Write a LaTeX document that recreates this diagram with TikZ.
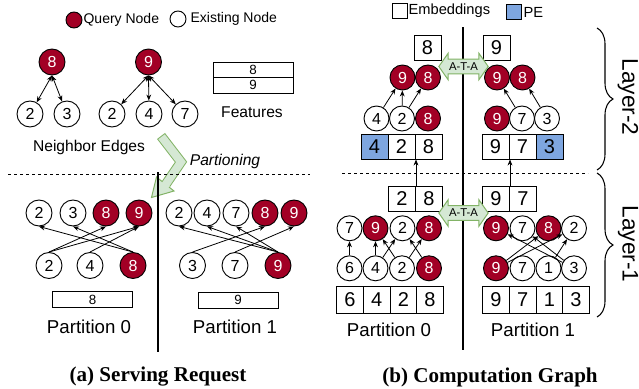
\documentclass[tikz,border=0pt]{standalone}
\usepackage{fontspec}
\setmainfont{Liberation Sans}
\setsansfont{Liberation Sans}
\newfontfamily\captionserif{Liberation Serif}
\usepackage{tikz}
\usetikzlibrary{positioning, arrows.meta, shapes.arrows, decorations.pathreplacing}
\definecolor{queryred}{HTML}{A20025}
\definecolor{peblue}{HTML}{7EA6E0}
\definecolor{ataline}{HTML}{82B366}
\definecolor{atafill}{HTML}{D5E8D4}
\tikzset{
  >={Stealth[length=4.5pt, width=3.6pt]},
  every node/.style={font=\fontsize{10.5}{12}\selectfont},
  qnode/.style={
    circle, draw, line width=0.7pt, fill=queryred, text=white,
    inner sep=0pt, minimum size=19.5pt, font=\fontsize{12}{12}\selectfont
  },
  enode/.style={qnode, fill=white, text=black},
  featcell/.style={
    rectangle, draw, line width=0.75pt, minimum width=60pt,
    minimum height=11.5pt, inner sep=0pt, font=\fontsize{10}{10}\selectfont
  },
  embcell/.style={
    rectangle, draw, line width=0.75pt, minimum width=20.25pt,
    minimum height=18.75pt, inner sep=0pt, font=\fontsize{15}{15}\selectfont
  },
  pecell/.style={embcell, fill=peblue},
  basecell/.style={embcell, minimum width=20pt, minimum height=20pt},
  legbox/.style={rectangle, draw, line width=0.75pt, minimum size=11.25pt, inner sep=0pt},
  flowedge/.style={->, line width=0.6pt},
  nbedge/.style={<->, line width=0.6pt},
  ata/.style={
    double arrow, draw=ataline, fill=atafill, line width=0.75pt,
    double arrow head extend=4.5pt, double arrow tip angle=110,
    minimum height=37pt, minimum width=18pt, inner sep=2.2pt,
    font=\fontsize{8.5}{8.5}\selectfont
  },
  sublabel/.style={font=\fontsize{11.7}{13}\selectfont},
  partlabel/.style={font=\fontsize{14}{16}\selectfont},
  figcaption/.style={font=\captionserif\bfseries\fontsize{15.8}{18}\selectfont},
  separator/.style={dash pattern=on 2.5pt off 2pt, line width=0.6pt},
  wall/.style={line width=2.2pt},
  layerbrace/.style={decorate, decoration={brace, amplitude=12pt}, line width=0.8pt},
  layerlabel/.style={rotate=-90, font=\fontsize{17}{20}\selectfont}
}

\begin{document}
\begin{tikzpicture}[x=0.75pt, y=-0.75pt]
\useasboundingbox (0,0) rectangle (639,389);

% ---------------- (a) serving request ----------------
% legend
\node[qnode, minimum size=12pt] (legq) at (74,20) {};
\node[anchor=west, inner sep=1pt] (legqtxt) at (82,20) {Query Node};
\node[enode, minimum size=12pt] (lege) at (178,19) {};
\node[anchor=west, inner sep=1pt] (legetxt) at (189,19) {Existing Node};

% neighbor edges of the two query nodes
\node[qnode] (q8) at (52,62) {8};
\node[qnode] (q9) at (148.5,62) {9};
\node[enode] (q8n2) at (30,114) {2};
\node[enode] (q8n3) at (67,114) {3};
\node[enode] (q9n2) at (112,114) {2};
\node[enode] (q9n4) at (149,114) {4};
\node[enode] (q9n7) at (185,114) {7};
\foreach \c in {q8n2, q8n3} \draw[nbedge] (q8.south) -- (\c);
\foreach \c in {q9n2, q9n4, q9n7} \draw[nbedge] (q9.south) -- (\c);
\node[sublabel] (nblbl) at (89,147) {Neighbor Edges};

% features
\node[featcell] (feat8) at (253,70) {8};
\node[featcell, below=-0.75pt of feat8] (feat9) {9};
\node[sublabel] (featlbl) at (252,112) {Features};

% bent partitioning arrow
\draw[line width=7.5pt, ataline, line join=miter] (161,136) -- (181,162) -- (166,184);
\filldraw[fill=atafill, draw=ataline, line width=0.75pt, line join=miter]
  (151.5,197.5) -- (156.5,177) -- (174,191) -- cycle;
\draw[line width=6pt, atafill, line join=miter, shorten <=0.75pt]
  (161,136) -- (181,162) -- (164.5,186.2);
\node[sublabel, font=\fontsize{11.7}{13}\selectfont\itshape] (partlbl) at (225,161) {Partioning};

\draw[separator] (8,174) -- (310,174);
\draw[wall] (158,172) -- (158,352);

% partition 0
\node[enode] (p0t2) at (39,213) {2};
\node[enode] (p0t3) at (73,213) {3};
\node[qnode] (p0t8) at (106,213) {8};
\node[qnode] (p0t9) at (139,213) {9};
\node[enode] (p0b2) at (49,265.5) {2};
\node[enode] (p0b4) at (90,265.5) {4};
\node[qnode] (p0b8) at (133,265.5) {8};
\draw[flowedge] (p0b8.north) -- (p0t2.south);
\draw[flowedge] (p0b8.north) -- (p0t3.south);
\draw[flowedge] (p0b2.north) -- (p0t8.south);
\draw[flowedge] (p0b2.north) -- (p0t9.south);
\draw[flowedge] (p0b4.north) -- (p0t9.south);
\node[featcell, minimum height=12pt] (p0feat) at (92.5,299.7) {8};
\node[partlabel] (p0lbl) at (89,327) {Partition 0};

% partition 1
\node[enode] (p1t2) at (179,213) {2};
\node[enode] (p1t4) at (207,213) {4};
\node[enode] (p1t7) at (236,213) {7};
\node[qnode] (p1t8) at (265,213) {8};
\node[qnode] (p1t9) at (294,213) {9};
\node[enode] (p1b3) at (192.5,265.5) {3};
\node[enode] (p1b7) at (235,265.5) {7};
\node[qnode] (p1b9) at (278,265.5) {9};
\foreach \t in {p1t2, p1t4, p1t7} \draw[flowedge] (p1b9.north) -- (\t.south);
\draw[flowedge] (p1b3.north) -- (p1t8.south);
\draw[flowedge] (p1b7.north) -- (p1t9.south);
\node[featcell, minimum height=12pt] (p1feat) at (238,300) {9};
\node[partlabel] (p1lbl) at (235,327) {Partition 1};

\node[figcaption] (capa) at (158,377) {(a) Serving Request};

% ---------------- (b) computation graph ----------------
\begin{scope}[qnode/.append style={minimum size=18.75pt}]
% legend
\node[legbox] (legemb) at (399.5,11) {};
\node[anchor=west, inner sep=1pt, font=\fontsize{11}{12}\selectfont] (legembtxt) at (407,11) {Embeddings};
\node[legbox, fill=peblue] (legpe) at (514,12) {};
\node[anchor=west, inner sep=1pt, font=\fontsize{11}{12}\selectfont] (legpetxt) at (522,12) {PE};

\draw[separator] (342,173) -- (588,173);
\draw[wall] (463,27) -- (463,350);

% layer-2
\node[embcell] (top8) at (427.5,47.5) {8};
\node[embcell] (top9) at (496.5,47.5) {9};
\node[qnode] (ta9) at (402.5,77.5) {9};
\node[qnode] (ta8) at (428,77.5) {8};
\node[qnode] (tb9) at (497,77.5) {9};
\node[qnode] (tb8) at (522.5,77.5) {8};
\node[ata] (ata2) at (463.5,66.5) {A-T-A};

\node[enode] (ma4) at (376.5,118.5) {4};
\node[enode] (ma2) at (402,118.5) {2};
\node[qnode] (ma8) at (428,118.5) {8};
\node[qnode] (mb9) at (497,118.5) {9};
\node[enode] (mb7) at (522,118.5) {7};
\node[enode] (mb3) at (547,118.5) {3};
\draw[flowedge] (ma4) -- (ta9);
\draw[flowedge] (ma2) -- (ta9);
\draw[flowedge] (ma2) -- (ta8);
\draw[flowedge] (mb7) -- (tb9);
\draw[flowedge] (mb3) -- (tb8);

\node[pecell] (l2a4) at (374.5,146.5) {4};
\node[embcell, right=-0.75pt of l2a4] (l2a2) {2};
\node[embcell, right=-0.75pt of l2a2] (l2a8) {8};
\node[embcell] (l2b9) at (495.5,146.5) {9};
\node[embcell, right=-0.75pt of l2b9] (l2b7) {7};
\node[pecell, right=-0.75pt of l2b7] (l2b3) {3};

% layer-1
\node[embcell] (l1a2) at (402,199) {2};
\node[embcell, right=-0.75pt of l1a2] (l1a8) {8};
\node[embcell] (l1b9) at (496,199) {9};
\node[embcell, right=-0.75pt of l1b9] (l1b7) {7};
\draw[flowedge] (l1a2.north east) -- (l1a2.north east |- l2a2.south);
\draw[flowedge] (l1b9.north east) -- (l1b9.north east |- l2b9.south);

\node[enode] (ua7) at (349.5,228.3) {7};
\node[qnode] (ua9) at (375.5,228.3) {9};
\node[enode] (ua2) at (402.5,228.3) {2};
\node[qnode] (ua8) at (429,228.3) {8};
\node[qnode] (ub9) at (496,228.3) {9};
\node[enode] (ub7) at (522.5,228.3) {7};
\node[qnode] (ub8) at (548.5,228.3) {8};
\node[enode] (ub2) at (574,228.3) {2};
\node[ata] (ata1) at (463.5,213) {A-T-A};

\node[enode] (va6) at (349.5,268.3) {6};
\node[enode] (va4) at (375.5,268.3) {4};
\node[enode] (va2) at (402,268.3) {2};
\node[qnode] (va8) at (429,268.3) {8};
\node[qnode] (vb9) at (496,268.3) {9};
\node[enode] (vb7) at (522.5,268.3) {7};
\node[enode] (vb1) at (548.5,268.3) {1};
\node[enode] (vb3) at (574,268.3) {3};
\draw[flowedge] (va6) -- (ua7);
\draw[flowedge] (va4) -- (ua9);
\draw[flowedge] (va2) -- (ua9);
\draw[flowedge] (va4) -- (ua2);
\draw[flowedge] (va8) -- (ua2);
\draw[flowedge] (va2) -- (ua8);
\draw[flowedge] (vb3) -- (ub9);
\draw[flowedge] (vb3) -- (ub7);
\draw[flowedge] (vb9) -- (ub8);
\draw[flowedge] (vb9) -- (ub2);
\draw[flowedge] (vb1) -- (ub2);

\node[basecell] (ba6) at (350,300) {6};
\node[basecell, right=-0.75pt of ba6] (ba4) {4};
\node[basecell, right=-0.75pt of ba4] (ba2) {2};
\node[basecell, right=-0.75pt of ba2] (ba8) {8};
\node[basecell] (bb9) at (496,300) {9};
\node[basecell, right=-0.75pt of bb9] (bb7) {7};
\node[basecell, right=-0.75pt of bb7] (bb1) {1};
\node[basecell, right=-0.75pt of bb1] (bb3) {3};

\node[partlabel] (q0lbl) at (389,330) {Partition 0};
\node[partlabel] (q1lbl) at (533,330) {Partition 1};

% layer braces
\draw[layerbrace] (597,28) -- (597,170);
\draw[layerbrace] (597,173) -- (597,317);
\node[layerlabel] (lay2) at (628,97) {Layer-2};
\node[layerlabel] (lay1) at (628,244) {Layer-1};
\end{scope}

\node[figcaption] (capb) at (490,377) {(b) Computation Graph};
\end{tikzpicture}
\end{document}
